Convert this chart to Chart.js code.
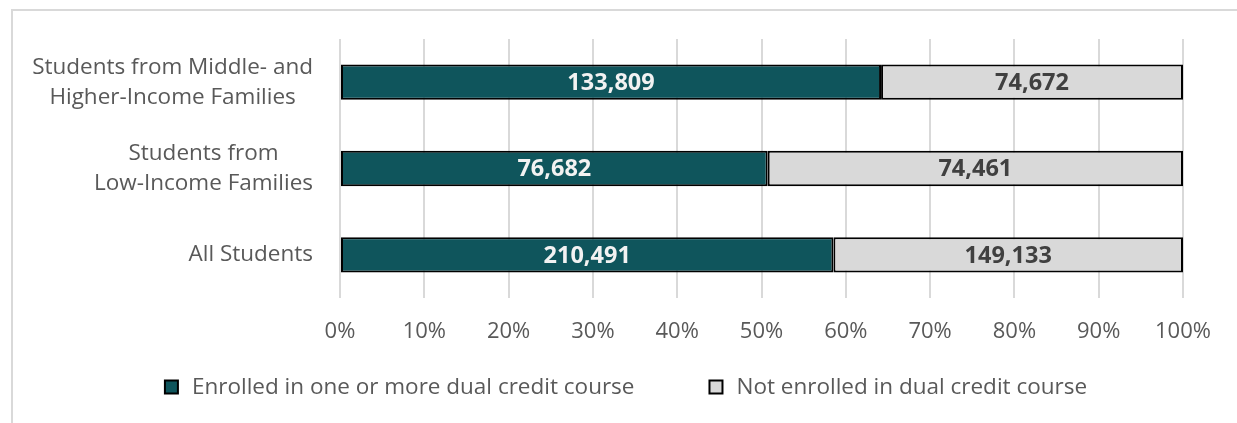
<!DOCTYPE html>
<html>
<head>
<meta charset="utf-8">
<script src="https://cdn.jsdelivr.net/npm/chart.js@4.4.0/dist/chart.umd.min.js"></script>
<style>
    html, body { margin: 0; padding: 0; background: #fff; overflow: hidden; }
    #frame {
        position: absolute; left: 11px; top: 9px;
        width: 1400px; height: 600px;
        border: 2px solid #d9d9d9;
    }
    #wrap { position: absolute; left: 0; top: 0; width: 1237px; height: 423px; }
</style>
</head>
<body>
<div id="frame"></div>
<div id="wrap"><canvas id="chart"></canvas></div>
<script>
// Données du graphique
const categories = [
    ["Students from Middle- and", "Higher-Income Families"],
    ["Students from", "Low-Income Families"],
    ["All Students"]
];
const seriesNames = ["Enrolled in one or more dual credit course", "Not enrolled in dual credit course"];
const enrolled = [133809, 76682, 210491];
const notEnrolled = [74672, 74461, 149133];
const xTicks = [0, 10, 20, 30, 40, 50, 60, 70, 80, 90, 100];

const FONT = "'Open Sans', 'Noto Sans', sans-serif";
const TEAL = '#0F555C';
const GREY = '#D9D9D9';

// Parts en pourcentage (barres empilées à 100 %)
const totals = enrolled.map((v, i) => v + notEnrolled[i]);
const enrolledPct = enrolled.map((v, i) => v / totals[i] * 100);
const notEnrolledPct = notEnrolled.map((v, i) => v / totals[i] * 100);
const rawValues = [enrolled, notEnrolled];

// Étiquettes de catégories (lignes centrées, bloc aligné à droite)
const categoryLabels = {
    id: 'categoryLabels',
    afterDraw(chart) {
        const ctx = chart.ctx;
        const y = chart.scales.y;
        ctx.save();
        ctx.font = '22.5px ' + FONT;
        ctx.fillStyle = '#595959';
        ctx.textAlign = 'center';
        ctx.textBaseline = 'middle';
        const lineH = 30;
        const right = 313;
        categories.forEach(function(lines, i) {
            const cy = y.getPixelForValue(i);
            const maxW = Math.max.apply(null, lines.map(l => ctx.measureText(l).width));
            const cx = right - maxW / 2;
            const startY = cy - (lines.length - 1) * lineH / 2;
            lines.forEach(function(l, j) {
                ctx.fillText(l, cx, startY + j * lineH);
            });
        });
        ctx.restore();
    }
};

// Valeurs au centre des segments
const valueLabels = {
    id: 'valueLabels',
    afterDatasetsDraw(chart) {
        const ctx = chart.ctx;
        ctx.save();
        ctx.font = 'bold 23.5px ' + FONT;
        ctx.textAlign = 'center';
        ctx.textBaseline = 'middle';
        chart.data.datasets.forEach(function(ds, di) {
            ctx.fillStyle = di === 0 ? '#F2F2F2' : '#404040';
            chart.getDatasetMeta(di).data.forEach(function(el, i) {
                const x = (el.x + el.base) / 2;
                ctx.fillText(rawValues[di][i].toLocaleString('en-US'), x, el.y + 1);
            });
        });
        ctx.restore();
    }
};

// Légende dessinée à la main (espacement large entre les éléments)
const customLegend = {
    id: 'customLegend',
    afterDraw(chart) {
        const ctx = chart.ctx;
        ctx.save();
        ctx.font = '22.5px ' + FONT;
        const box = 13, gap = 14, itemGap = 75;
        const widths = seriesNames.map(n => ctx.measureText(n).width);
        let total = 0;
        widths.forEach((w, i) => { total += box + gap + w + (i < widths.length - 1 ? itemGap : 0); });
        let x = 626 - total / 2;
        const cy = 387;
        chart.data.datasets.forEach(function(ds, i) {
            ctx.fillStyle = ds.backgroundColor;
            ctx.fillRect(x, cy - box / 2, box, box);
            ctx.lineWidth = 2;
            ctx.strokeStyle = '#000';
            ctx.strokeRect(x, cy - box / 2, box, box);
            ctx.fillStyle = '#595959';
            ctx.textAlign = 'left';
            ctx.textBaseline = 'middle';
            ctx.fillText(seriesNames[i], x + box + gap, cy + 1);
            x += box + gap + widths[i] + itemGap;
        });
        ctx.restore();
    }
};

new Chart(document.getElementById('chart'), {
    type: 'bar',
    data: {
        labels: categories,
        datasets: [
            {
                label: seriesNames[0],
                data: enrolledPct,
                backgroundColor: TEAL,
                borderColor: '#000',
                borderWidth: 2,
                borderSkipped: false
            },
            {
                label: seriesNames[1],
                data: notEnrolledPct,
                backgroundColor: GREY,
                borderColor: '#000',
                borderWidth: 2,
                borderSkipped: false
            }
        ]
    },
    options: {
        indexAxis: 'y',
        responsive: true,
        maintainAspectRatio: false,
        animation: false,
        layout: { padding: { top: 39, right: 54, bottom: 0, left: 0 } },
        datasets: { bar: { barPercentage: 1, categoryPercentage: 0.41 } },
        scales: {
            x: {
                stacked: true,
                min: 0,
                max: 100,
                afterBuildTicks: function(scale) {
                    scale.ticks = xTicks.map(v => ({ value: v }));
                },
                afterFit: function(scale) { scale.height = 125; },
                ticks: {
                    padding: 21,
                    color: '#595959',
                    font: { family: FONT, size: 22 },
                    callback: v => v + '%'
                },
                grid: { color: '#D9D9D9', lineWidth: 2, drawTicks: false },
                border: { display: false }
            },
            y: {
                stacked: true,
                afterFit: function(scale) { scale.width = 340; },
                ticks: { display: false },
                grid: { display: false },
                border: { display: false }
            }
        },
        plugins: {
            legend: { display: false },
            tooltip: { enabled: false }
        }
    },
    plugins: [categoryLabels, valueLabels, customLegend]
});
</script>
</body>
</html>
